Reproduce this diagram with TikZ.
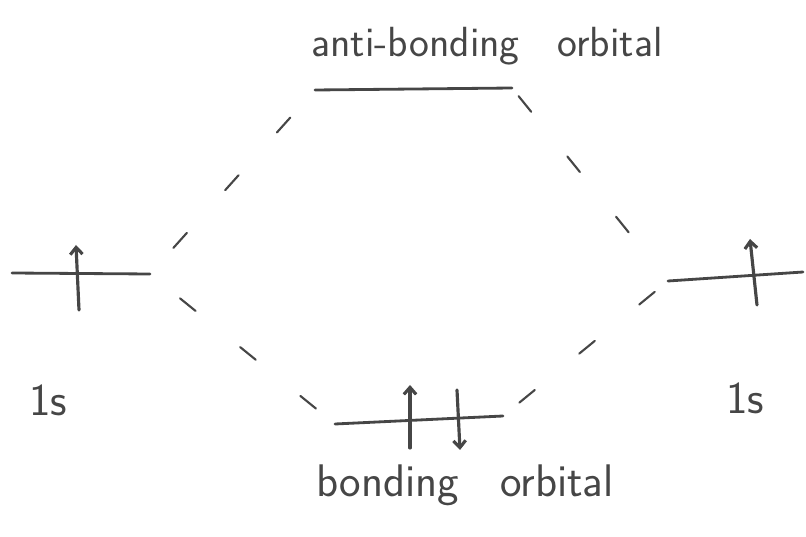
\documentclass[tikz,border=0pt]{standalone}
\usepackage{tikz}
\usetikzlibrary{arrows.meta, positioning, calc}
\definecolor{pencil}{RGB}{70, 70, 70}

\begin{document}
\begin{tikzpicture}[x=0.02cm, y=-0.02cm,
    level/.style={pencil, line width=1.6pt, line cap=round},
    spin/.style={pencil, line width=1.8pt, line cap=round, -{Straight Barb[length=4pt, width=7pt]}},
    mix/.style={pencil, line width=1.2pt, line cap=round, dash pattern=on 0.4cm off 1.15cm},
    label/.style={pencil, font=\sffamily\fontsize{26}{30}\selectfont}]
    \useasboundingbox (0,0) rectangle (806,537);

    % 1s level, left atom
    \coordinate (L1a) at (12,273);
    \coordinate (L1b) at (150,274);
    \draw[level] (L1a) -- (L1b);
    \draw[spin] (79,310) -- (76,245);
    \node[label] (ls) at (48,400) {1s};

    % 1s level, right atom
    \coordinate (R1a) at (668,281);
    \coordinate (R1b) at (803,272);
    \draw[level] (R1a) -- (R1b);
    \draw[spin] (757,305) -- (750,239);
    \node[label] (rs) at (745,398) {1s};

    % anti-bonding orbital
    \coordinate (AB1) at (315,90);
    \coordinate (AB2) at (512,88);
    \draw[level] (AB1) -- (AB2);
    \node[label, font=\sffamily\fontsize{24}{28}\selectfont] (abl) at (487,46) {anti-bonding\hspace{0.9em}orbital};

    % bonding orbital
    \coordinate (B1) at (335,424);
    \coordinate (B2) at (503,416);
    \draw[level] (B1) -- (B2);
    \draw[spin] (410,448) -- (410,385);
    \draw[pencil, line width=1.8pt, line cap=round, {Straight Barb[length=4pt, width=7pt]}-] (460,450) -- (457,390);
    \node[label] (bl) at (465,485) {bonding\hspace{0.9em}orbital};

    % correlation lines
    \draw[mix, shorten <=20pt, shorten >=10pt] (L1b) -- (AB1);
    \draw[mix, shorten <=22pt, shorten >=6pt] (L1b) -- (B1);
    \draw[mix, shorten <=6pt, shorten >=20pt] (AB2) -- (R1a);
    \draw[mix, shorten <=12pt, shorten >=6pt] (B2) -- (R1a);
\end{tikzpicture}
\end{document}
